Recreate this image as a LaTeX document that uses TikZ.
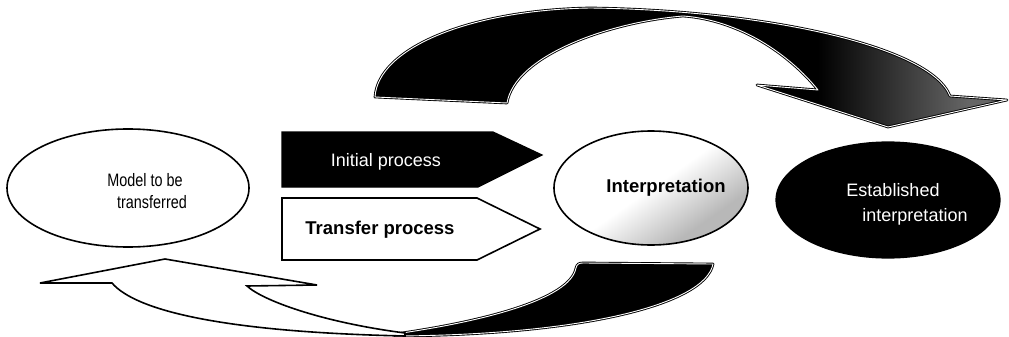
\documentclass[tikz,border=0pt]{standalone}
\usepackage{fontspec}
\setmainfont{Liberation Sans}
\newfontfamily\narrowsans[FakeStretch=0.8]{Liberation Sans}
\usetikzlibrary{shapes.geometric}
% black body that turns grey towards the arrow head
\pgfdeclarehorizontalshading{headshade}{100bp}{color(0bp)=(black); color(60bp)=(black); color(72bp)=(black!60!white); color(100bp)=(black!60!white)}
% white ellipse with a light grey lower part
\pgfdeclareverticalshading{lowgrey}{100bp}{color(0bp)=(black!28!white); color(30bp)=(black!28!white); color(50bp)=(white); color(100bp)=(white)}
\begin{document}
\begin{tikzpicture}[x=1pt,y=-1pt,
  outline/.style={draw=black, line width=1.6pt},
  ribbon/.style={draw=black, line width=0.9pt, double=white, double distance=0.9pt, line join=round},
  label/.style={inner sep=0pt, font=\narrowsans\fontsize{18}{22}\selectfont},
  boldlabel/.style={inner sep=0pt, font=\fontsize{18.5}{22}\selectfont\bfseries},
  whitelabel/.style={inner sep=0pt, text=white, font=\fontsize{18}{22}\selectfont}]
\useasboundingbox (0,0) rectangle (1009,337);

% upper curved arrow, pointing down to the right
\path[shading=headshade, ribbon]
  (375,97) .. controls (378,48) and (470,10) .. (590,8)
  .. controls (760,10) and (930,45) .. (950,96)
  -- (1007,100) -- (888,127) -- (757,85) -- (818,90)
  .. controls (790,55) and (740,20) .. (683,16)
  .. controls (610,22) and (515,55) .. (507,103) -- cycle;

% lower curved arrow: dark back face, then white front face with the head
\path[fill=black, ribbon]
  (395,334) .. controls (480,322) and (570,300) .. (576,268)
  .. controls (577,264) and (579,263) .. (583,263)
  -- (713,264) .. controls (705,305) and (580,335) .. (395,336) -- cycle;
\path[fill=white, outline]
  (40,283) -- (165,259) -- (317,285) -- (247,286)
  .. controls (262,300) and (320,322) .. (405,333)
  -- (405,336) .. controls (220,332) and (135,310) .. (112,283) -- cycle;

% ellipses
\node[ellipse, outline, fill=white, minimum width=242pt, minimum height=118pt, inner sep=0pt] (model) at (128,188) {};
\node[ellipse, outline, shading=lowgrey, shading angle=35, minimum width=194pt, minimum height=114pt, inner sep=0pt] (interp) at (651,188) {};
\node[ellipse, draw=black, fill=black, line width=1.2pt, minimum width=224pt, minimum height=116pt, inner sep=0pt] (estab) at (888,200) {};

% process arrows
\path[fill=black, draw=black, line width=1.2pt, line join=miter]
  (282,132) -- (493,132) -- (542,155) -- (478,187) -- (282,187) -- cycle;
\path[fill=white, outline, line join=miter]
  (282,198) -- (477,198) -- (540,229) -- (477,260) -- (282,260) -- cycle;

% texts
\node[label] (modelA) at (145,180) {Model to be};
\node[label] (modelB) at (152,202) {transferred};
\node[whitelabel] (initial) at (386,162) {Initial process};
\node[boldlabel] (transfer) at (380,230) {Transfer process};
\node[boldlabel] (interpT) at (666,188) {Interpretation};
\node[whitelabel] (estabA) at (893,190) {Established};
\node[whitelabel] (estabB) at (915,217) {interpretation};
\end{tikzpicture}
\end{document}
